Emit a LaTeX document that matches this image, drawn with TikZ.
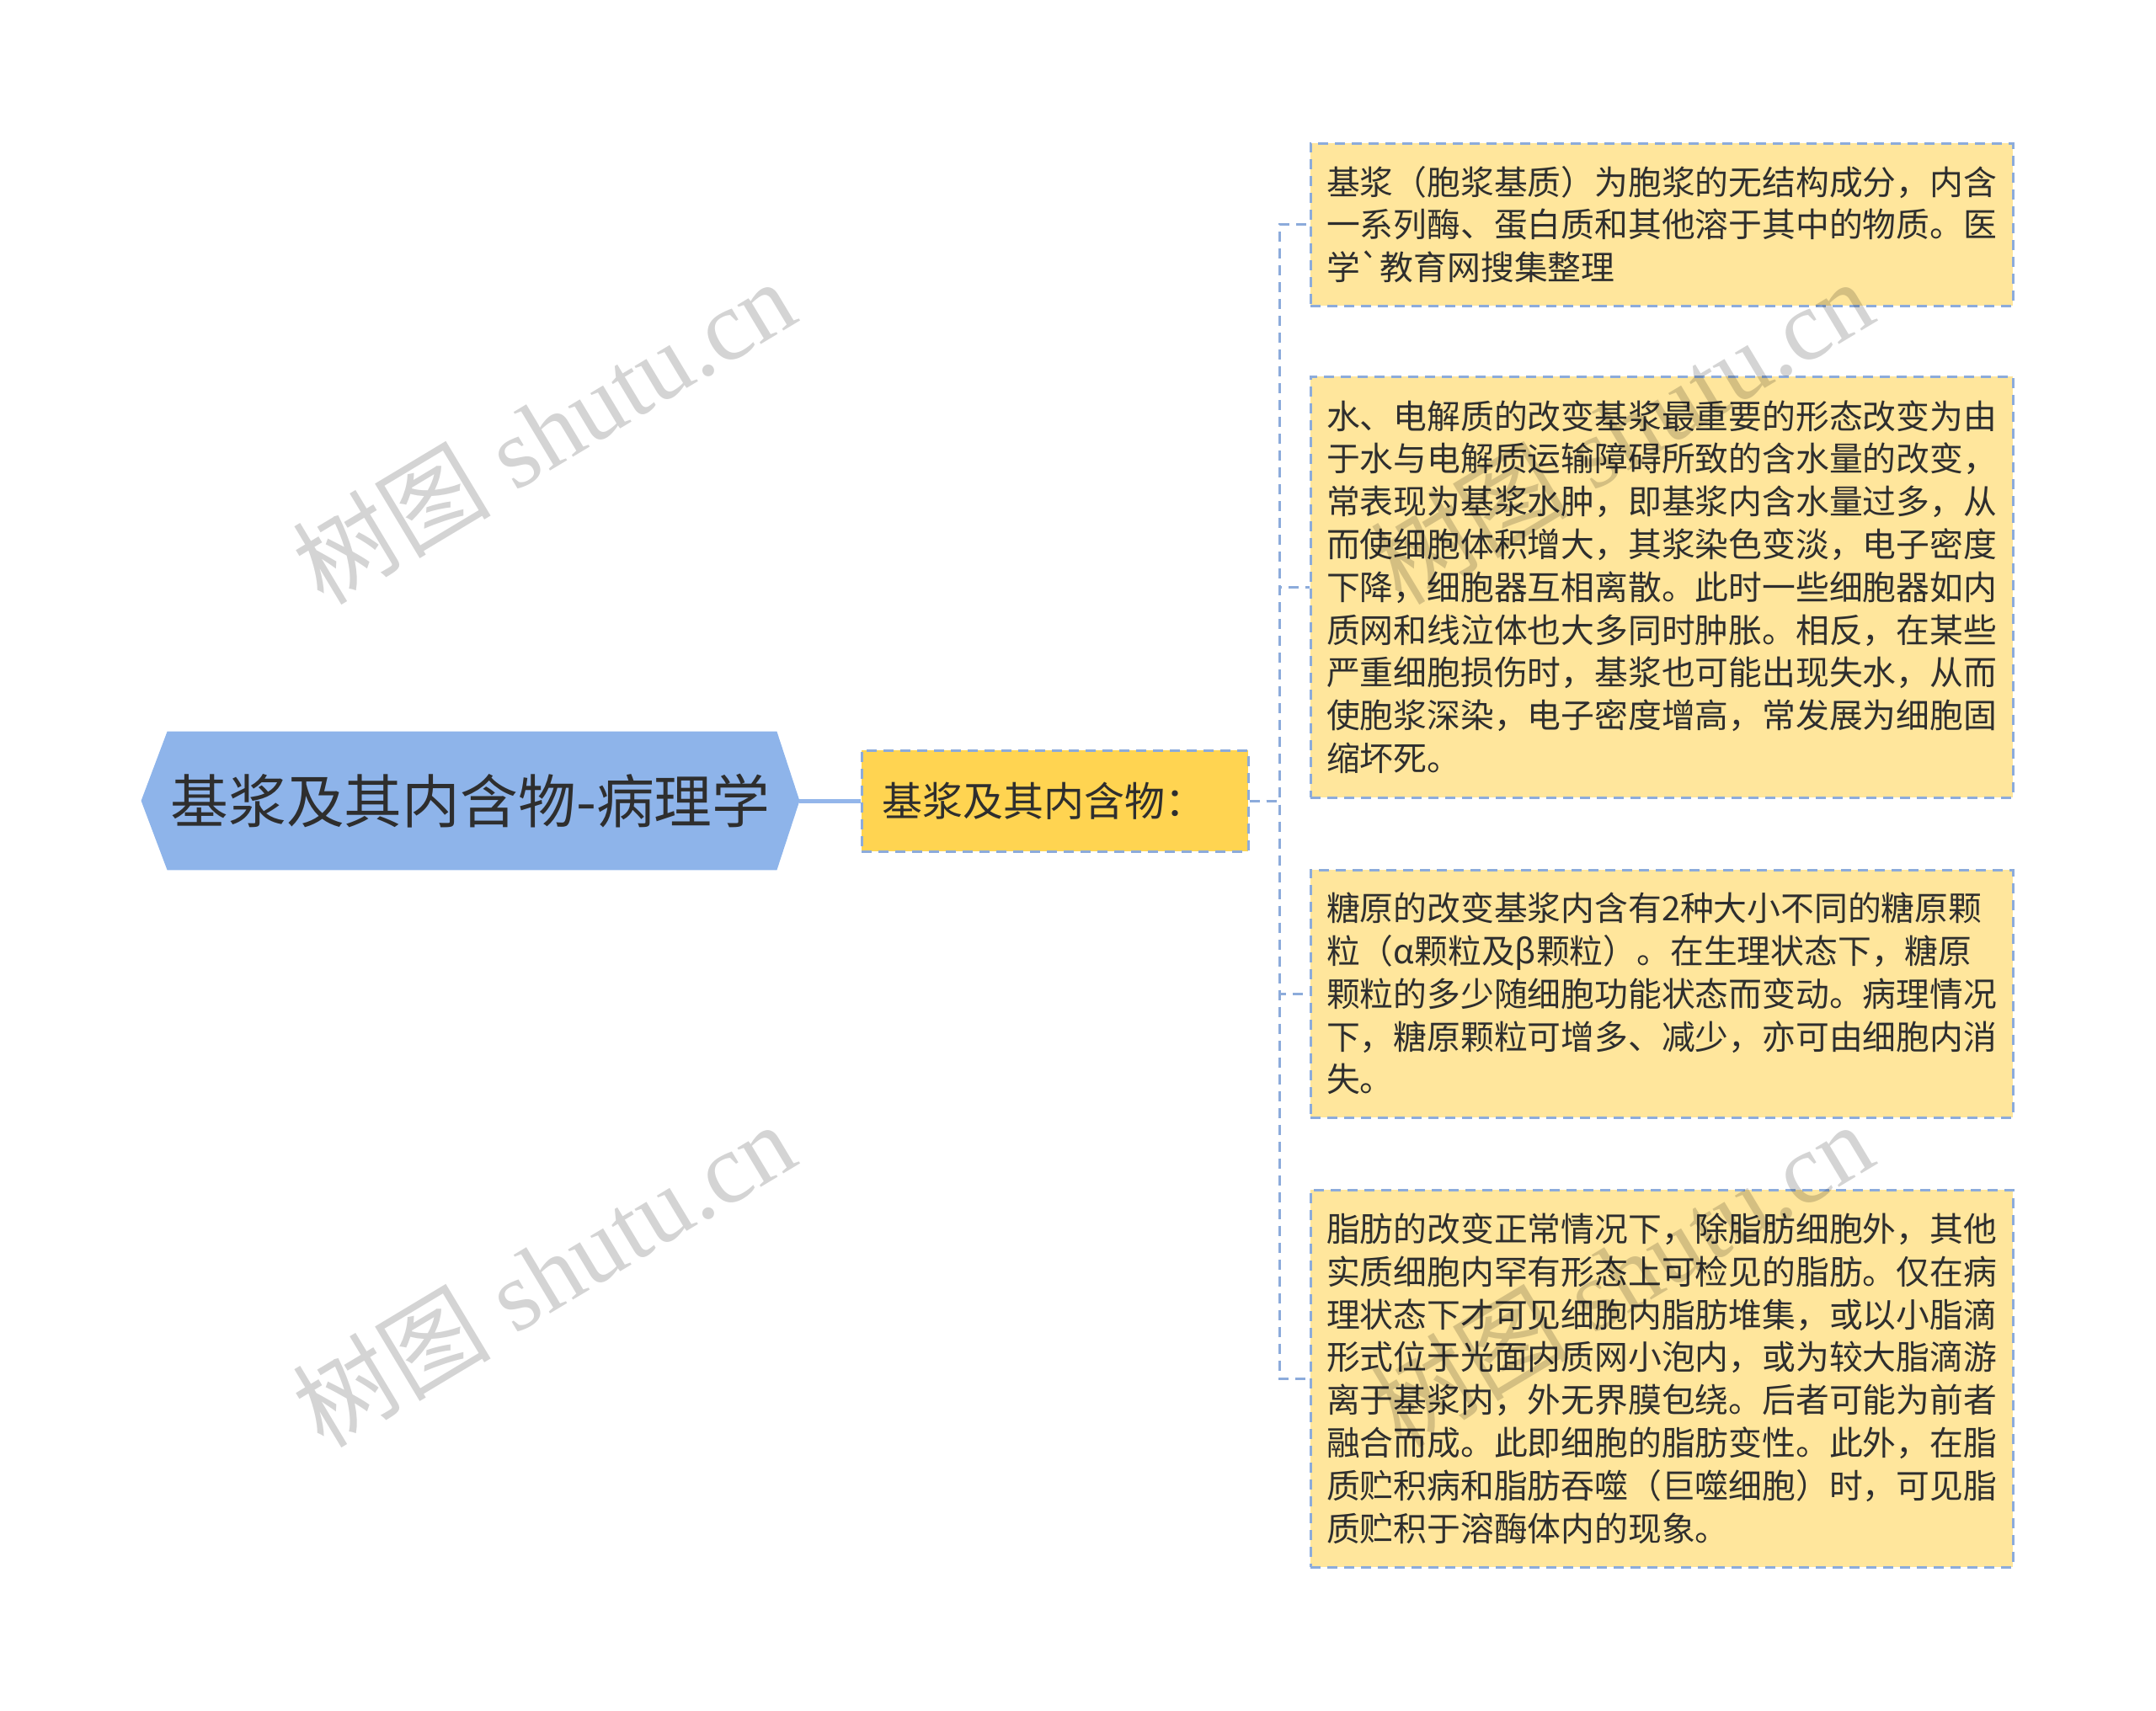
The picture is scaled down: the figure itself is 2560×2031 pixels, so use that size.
\documentclass[tikz,border=0pt]{standalone}
\usepackage{fontspec}
\newfontfamily\cjk{Noto Sans CJK SC}
\newfontfamily\wmserif{Liberation Serif}
\usetikzlibrary{calc,backgrounds}
\definecolor{rootfill}{HTML}{8EB4EA}
\definecolor{rootline}{HTML}{94B6EA}
\definecolor{subfill}{HTML}{FFD451}
\definecolor{leaffill}{HTML}{FFE69C}
\definecolor{dashblue}{HTML}{8CABDB}
\definecolor{txt}{HTML}{2E2E2E}
\tikzset{
  rootnode/.style={rectangle, inner sep=0pt, minimum width=390.5pt, minimum height=82pt,
    text=txt, font={\cjk\fontsize{34.4pt}{40pt}\selectfont}},
  subnode/.style={rectangle, fill=subfill, draw=dashblue, line width=1.5pt, dash pattern=on 6pt off 4pt,
    minimum width=229.5pt, minimum height=60pt, inner xsep=12pt, inner ysep=0pt,
    text width=205.5pt, align=left, text=txt, font={\cjk\fontsize{24pt}{30pt}\selectfont}},
  leafnode/.style={rectangle, fill=leaffill, draw=dashblue, line width=1.5pt, dash pattern=on 6pt off 4pt,
    minimum width=417pt, inner xsep=9.5pt, inner ysep=0pt,
    text width=398pt, align=left, text=txt, font={\cjk\fontsize{19.9pt}{25.4pt}\selectfont}},
  rootconn/.style={draw=rootline, line width=2.5pt},
  conn/.style={draw=dashblue, line width=1.5pt, dash pattern=on 6pt off 4pt},
  wmark/.style={rotate=31, text=black, text opacity=0.17, inner sep=0pt,
    font={\wmserif\fontsize{59pt}{64pt}\selectfont}},
}
\begin{document}
\begin{tikzpicture}[x=0.5pt,y=-0.5pt]
\useasboundingbox (0,0) rectangle (2560,2031);

% root
\node[rootnode] (root) at (558.5,951) {基浆及其内含物-病理学};
\begin{scope}[on background layer]
\fill[rootfill] (root.west) -- ($(root.north west)+(31,0)$) -- ($(root.north east)+(-27,0)$)
  -- (root.east) -- ($(root.south east)+(-27,0)$) -- ($(root.south west)+(31,0)$) -- cycle;
\end{scope}

% sub
\node[subnode] (sub) at (1252.5,951) {基浆及其内含物：};

% leaves
\node[leafnode, minimum height=96.5pt] (c1) at (1973,266.5) {基浆（胞浆基质）为胞浆的无结构成分，内含\\一系列酶、蛋白质和其他溶于其中的物质。医\\学\symbol{96}教育网搜集整理};

\node[leafnode, minimum height=250pt] (c2) at (1973,697) {水、电解质的改变基浆最重要的形态改变为由\\于水与电解质运输障碍所致的含水量的改变，\\常表现为基浆水肿，即基浆内含水量过多，从\\而使细胞体积增大，其浆染色变淡，电子密度\\下降，细胞器互相离散。此时一些细胞器如内\\质网和线泣体也大多同时肿胀。相反，在某些\\严重细胞损伤时，基浆也可能出现失水，从而\\使胞浆深染，电子密度增高，常发展为细胞固\\缩坏死。};

\node[leafnode, minimum height=147pt] (c3) at (1973,1180) {糖原的改变基浆内含有2种大小不同的糖原颗\\粒（α颗粒及β颗粒）。在生理状态下，糖原\\颗粒的多少随细胞功能状态而变动。病理情况\\下，糖原颗粒可增多、减少，亦可由细胞内消\\失。};

\node[leafnode, minimum height=224pt] (c4) at (1973,1637) {脂肪的改变正常情况下，除脂肪细胞外，其他\\实质细胞内罕有形态上可检见的脂肪。仅在病\\理状态下才可见细胞内脂肪堆集，或以小脂滴\\形式位于光面内质网小泡内，或为较大脂滴游\\离于基浆内，外无界膜包绕。后者可能为前者\\融合而成。此即细胞的脂肪变性。此外，在脂\\质贮积病和脂肪吞噬（巨噬细胞）时，可见脂\\质贮积于溶酶体内的现象。};

% connectors
\coordinate (j) at (1519,951);
\draw[rootconn] (root.east) -- (sub.west);
\draw[conn] (sub.east) -- (sub.east -| j) |- (c1.west);
\draw[conn] (sub.east) -- (sub.east -| j) |- (c2.west);
\draw[conn] (sub.east) -- (sub.east -| j) |- (c3.west);
\draw[conn] (sub.east) -- (sub.east -| j) |- (c4.west);

% watermarks
\node[wmark] (w1) at (645,512) {{\cjk 树图} shutu.cn};
\node[wmark] (w2) at (645,1513) {{\cjk 树图} shutu.cn};
\node[wmark] (w3) at (1925,512) {{\cjk 树图} shutu.cn};
\node[wmark] (w4) at (1925,1513) {{\cjk 树图} shutu.cn};
\end{tikzpicture}
\end{document}
